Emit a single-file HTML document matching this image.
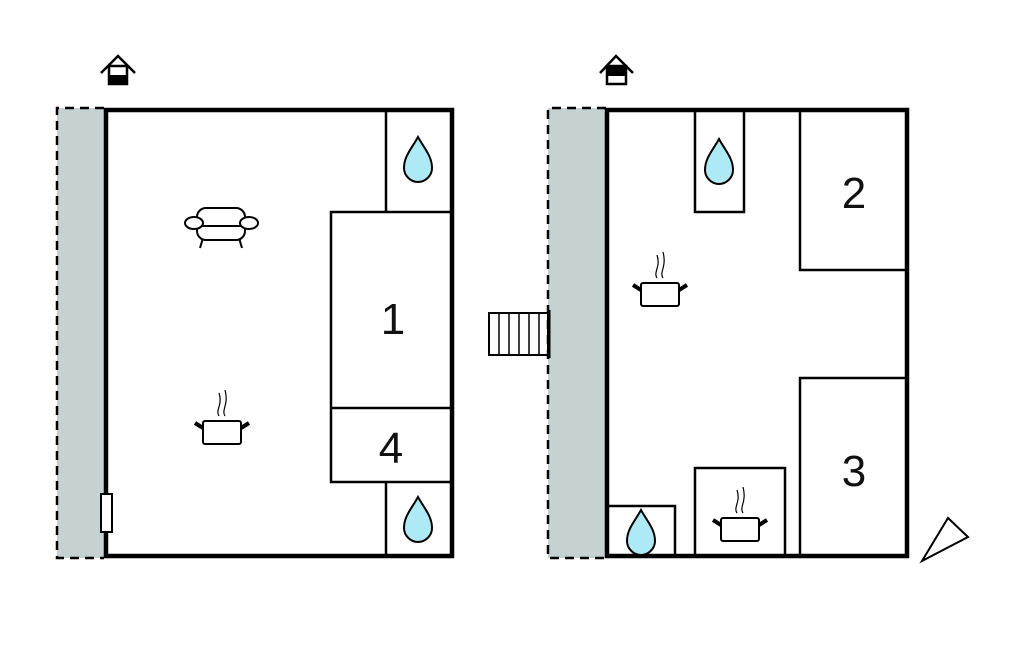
<!DOCTYPE html>
<html><head><style>html,body{margin:0;padding:0;background:#fff}svg{display:block}</style></head><body>
<svg width="1024" height="652" viewBox="0 0 1024 652" xmlns="http://www.w3.org/2000/svg">
<defs>
<g id="drop"><path d="M0,-23 C-6,-12 -14,-4 -14,8 C-14,16 -7,22 0,22 C7,22 14,16 14,8 C14,-4 6,-12 0,-23 Z" fill="#aeeaf5" stroke="#000" stroke-width="2"/></g>
<g id="pot" fill="none" stroke="#000">
<rect x="-19" y="0" width="38" height="23" rx="2" stroke-width="2"/>
<path d="M-19,7 L-27,2 M19,7 L27,2" stroke-width="4"/>
<path d="M-3,-5 C-7,-11 1,-16 -3,-28 M3,-5 C-1,-11 7,-16 3,-31" stroke-width="1.2"/>
</g>
</defs>
<g font-family="Liberation Sans, sans-serif" font-size="44" text-anchor="middle" fill="#111">
<!-- LEFT PLAN -->
<rect x="57" y="108" width="48" height="450" fill="#c6d1d2"/>
<path d="M104,108 H57 V558 H104" fill="none" stroke="#000" stroke-width="2.5" stroke-dasharray="9,6"/>
<rect x="106" y="110" width="346" height="446" fill="none" stroke="#000" stroke-width="4.5"/>
<g fill="none" stroke="#000" stroke-width="2.5">
<path d="M386,110 V212"/><rect x="331" y="212" width="120" height="270" fill="#fff"/>
<path d="M331,408 H451"/><path d="M386,482 V556"/>
</g>
<rect x="101" y="494" width="11" height="38" fill="#fff" stroke="#000" stroke-width="2"/>
<use href="#drop" x="418" y="160"/><use href="#drop" x="418" y="520"/>
<text x="393" y="334">1</text><text x="391" y="463">4</text>
<use href="#pot" x="222" y="421"/>
<g fill="#fff" stroke="#000" stroke-width="2">
<path d="M203,238 L200,248 M239,238 L242,248" fill="none"/>
<rect x="197" y="208" width="48" height="32" rx="9"/>
<path d="M200,226 H242" fill="none"/>
<ellipse cx="194" cy="223" rx="9" ry="6"/><ellipse cx="249" cy="223" rx="9" ry="6"/>
</g>
<!-- house icons -->
<g stroke="#000" stroke-width="2.5" fill="none">
<path d="M101,73 L118,56 L135,73"/><rect x="109" y="66" width="18" height="18" fill="#fff"/>
<path d="M600,73 L616,56 L633,73"/><rect x="607" y="66" width="19" height="18" fill="#fff"/>
</g>
<rect x="109" y="75" width="18" height="9" fill="#000"/>
<rect x="607" y="66" width="19" height="10" fill="#000"/>
<!-- stairs -->
<rect x="489" y="313" width="59" height="42" fill="#fff" stroke="#000" stroke-width="2"/>
<path d="M499,313V355M509,313V355M519,313V355M529,313V355M539,313V355" stroke="#000" stroke-width="1.5"/>
<!-- RIGHT PLAN -->
<rect x="548" y="108" width="58" height="450" fill="#c6d1d2"/>
<path d="M606,108 H548 V558 H606" fill="none" stroke="#000" stroke-width="2.5" stroke-dasharray="9,6"/>
<path d="M549,310 V358" stroke="#000" stroke-width="3"/>
<rect x="607" y="110" width="300" height="446" fill="none" stroke="#000" stroke-width="4.5"/>
<g fill="none" stroke="#000" stroke-width="2.5">
<path d="M695,110 V212 H744 V110"/>
<path d="M800,110 V270 H907"/>
<path d="M907,378 H800 V556"/>
<path d="M608,506 H675 V556"/>
<path d="M695,556 V468 H785 V556"/>
</g>
<use href="#drop" x="719" y="162"/><use href="#drop" x="641" y="533"/>
<text x="854" y="208">2</text><text x="854" y="486">3</text>
<use href="#pot" x="660" y="283"/><use href="#pot" x="740" y="518"/>
<path d="M922,561 L948,518 L968,537 Z" fill="#fff" stroke="#000" stroke-width="2"/>
</g>
</svg>
</body></html>
